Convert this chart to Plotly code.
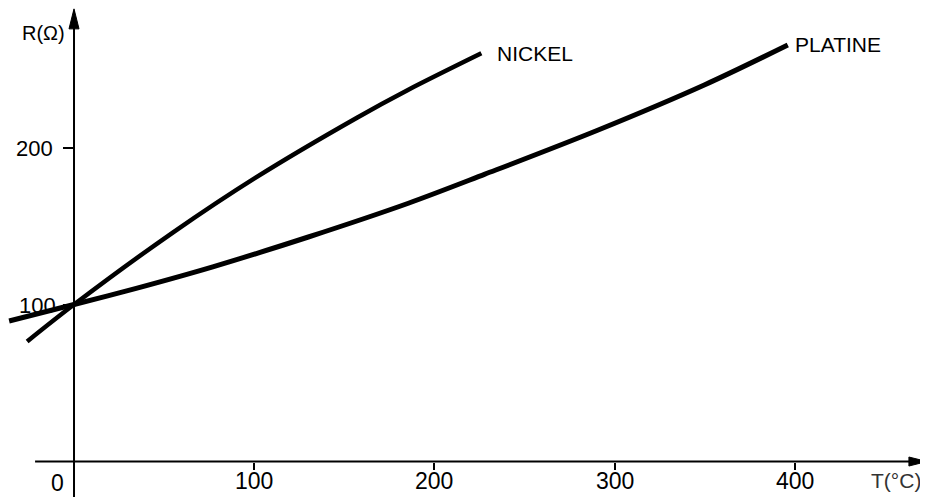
import plotly.graph_objects as go

# Data (T in °C, R in ohm)
nickel_T = [-26, 0, 55, 101, 157, 185, 226]
nickel_R = [76.5, 100, 146, 181, 219, 236.5, 260]

platine_T = [-36, 0, 34.5, 77, 130, 185.5, 228, 290.5, 350, 396]
platine_R = [89.5, 100, 110.3, 124, 143, 164.5, 183, 211, 240, 265.3]

x_ticks = [100, 200, 300, 400]
y_ticks = [100, 200]

# figure is drawn 920x489 (page adds an 8px body margin)
W, H = 920, 489
X_RANGE = [-36.62, 473.8]
Y_RANGE = [-22.6, 288.85]
FONT = "Liberation Sans, Arial, sans-serif"

fig = go.Figure()
fig.add_trace(go.Scatter(x=nickel_T, y=nickel_R, mode="lines", name="NICKEL",
                         line=dict(color="black", width=4.5, shape="spline", smoothing=0.9)))
fig.add_trace(go.Scatter(x=platine_T, y=platine_R, mode="lines", name="PLATINE",
                         line=dict(color="black", width=5, shape="spline", smoothing=0.9)))

shapes = [
    # x axis line and arrow head
    dict(type="line", xref="x", yref="y", x0=-21.6, x1=472.5, y0=0, y1=0,
         line=dict(color="black", width=2)),
    dict(type="path", xref="x", yref="y", xsizemode="pixel", ysizemode="pixel",
         xanchor=473.2, yanchor=0, path="M0,0 L-18,4.5 L-18,-4.5 Z",
         fillcolor="black", line=dict(color="black", width=1)),
    # y axis line and arrow head
    dict(type="line", xref="x", yref="y", x0=0, x1=0, y0=Y_RANGE[0], y1=287,
         line=dict(color="black", width=2)),
    dict(type="path", xref="x", yref="y", xsizemode="pixel", ysizemode="pixel",
         xanchor=0, yanchor=288.3, path="M0,0 L-5,-20 L5,-20 Z",
         fillcolor="black", line=dict(color="black", width=1)),
]

ann = []
# tick labels
for v in x_ticks:
    ann.append(dict(x=v, y=0, xref="x", yref="y", text=str(v), showarrow=False,
                    xanchor="center", yanchor="middle", yshift=-19,
                    font=dict(family=FONT, size=23, color="black")))
ann.append(dict(x=0, y=0, xref="x", yref="y", text="0", showarrow=False,
                xanchor="center", yanchor="middle", xshift=-17, yshift=-21,
                font=dict(family=FONT, size=23, color="black")))
for v in y_ticks:
    ann.append(dict(x=0, y=v, xref="x", yref="y", text=str(v), showarrow=False,
                    xanchor="right", yanchor="middle", xshift=-16 if v == 100 else -19,
                    yshift=-1,
                    font=dict(family=FONT, size=22, color="black")))
# curve labels
ann.append(dict(x=nickel_T[-1], y=nickel_R[-1], xref="x", yref="y", text="NICKEL", showarrow=False,
                xanchor="left", yanchor="middle", xshift=14, yshift=0,
                font=dict(family=FONT, size=21, color="black")))
ann.append(dict(x=platine_T[-1], y=platine_R[-1], xref="x", yref="y", text="PLATINE", showarrow=False,
                xanchor="left", yanchor="middle", xshift=5, yshift=0,
                font=dict(family=FONT, size=21, color="black")))
# axis titles
ann.append(dict(x=0, y=273, xref="x", yref="y", text="R(Ω)", showarrow=False,
                xanchor="right", yanchor="middle", xshift=-7,
                font=dict(family=FONT, size=20, color="black")))
ann.append(dict(x=1, y=0, xref="paper", yref="y", text="T(°C)", showarrow=False,
                xanchor="right", yanchor="middle", xshift=-5, yshift=-19,
                font=dict(family=FONT, size=21, color="#333")))

fig.update_layout(
    width=W, height=H,
    margin=dict(l=0, r=0, t=0, b=0),
    paper_bgcolor="white", plot_bgcolor="white",
    showlegend=False,
    annotations=ann,
    shapes=shapes,
    xaxis=dict(range=X_RANGE, domain=[0, 1], anchor="free",
               position=(0 - Y_RANGE[0]) / (Y_RANGE[1] - Y_RANGE[0]),
               showgrid=False, zeroline=False, showline=False,
               tickvals=x_ticks, showticklabels=False,
               ticks="outside", ticklen=7, tickwidth=1.5, tickcolor="black"),
    yaxis=dict(range=Y_RANGE, domain=[0, 1], anchor="free",
               position=(0 - X_RANGE[0]) / (X_RANGE[1] - X_RANGE[0]),
               showgrid=False, zeroline=False, showline=False,
               tickvals=y_ticks, showticklabels=False,
               ticks="outside", ticklen=11, tickwidth=1.5, tickcolor="black"),
)

fig.write_html("out.html")
